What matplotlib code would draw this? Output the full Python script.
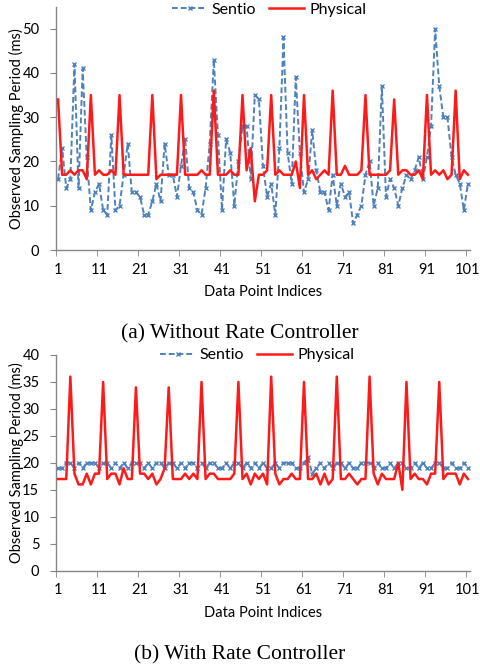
import matplotlib
matplotlib.use("Agg")
import matplotlib.pyplot as plt
import numpy as np

# ---------------- data ----------------
indices = list(range(1, 102))

sentio_a = [16, 23, 14, 16, 42, 14, 41, 21, 9, 13,
            15, 9, 8, 26, 9, 10, 17, 24, 13, 13,
            12, 8, 8, 11, 15, 11, 24, 17, 17, 12,
            19, 25, 14, 13, 9, 8, 14, 24, 43, 26,
            9, 25, 22, 10, 20, 28, 28, 16, 35, 34,
            19, 12, 15, 8, 23, 48, 22, 15, 39, 22,
            13, 16, 27, 18, 13, 13, 9, 17, 10, 15,
            12, 13, 6, 8, 10, 17, 20, 10, 14, 37,
            12, 16, 14, 10, 14, 17, 16, 18, 21, 16,
            21, 28, 50, 37, 30, 30, 21, 17, 15, 9,
            15]

physical_a = [34, 17, 17, 18, 17, 18, 18, 16, 35, 17,
              18, 17, 17, 18, 17, 35, 17, 17, 17, 17,
              17, 17, 17, 35, 16, 17, 17, 17, 17, 17,
              35, 17, 17, 17, 17, 18, 17, 17, 36, 17,
              17, 17, 18, 17, 17, 35, 18, 23, 11, 17,
              17, 18, 35, 17, 18, 17, 17, 17, 20, 14,
              35, 17, 18, 16, 17, 18, 17, 36, 17, 17,
              19, 17, 17, 17, 18, 35, 17, 17, 17, 17,
              17, 18, 34, 17, 18, 18, 17, 17, 18, 16,
              35, 17, 18, 17, 18, 16, 17, 36, 16, 18,
              17]

sentio_b = [19, 19, 20, 20, 19, 20, 19, 20, 20, 20,
            19, 20, 20, 19, 20, 19, 20, 19, 20, 20,
            20, 19, 20, 19, 20, 20, 19, 20, 20, 19,
            20, 19, 20, 20, 19, 20, 19, 20, 20, 19,
            19, 20, 19, 20, 20, 19, 20, 19, 20, 19,
            20, 19, 19, 20, 19, 20, 20, 20, 19, 19,
            20, 21, 18, 19, 20, 19, 20, 19, 20, 20,
            19, 20, 19, 19, 20, 20, 20, 19, 20, 19,
            19, 20, 19, 20, 20, 19, 19, 20, 19, 20,
            19, 19, 20, 20, 19, 19, 20, 19, 19, 20,
            19]

physical_b = [17, 17, 17, 36, 18, 16, 16, 18, 16, 18,
              18, 35, 17, 18, 18, 16, 19, 17, 17, 34,
              18, 18, 17, 18, 16, 17, 19, 34, 17, 17,
              17, 18, 17, 18, 17, 35, 17, 18, 18, 17,
              17, 17, 17, 18, 35, 17, 18, 16, 18, 17,
              18, 16, 36, 18, 16, 17, 17, 18, 17, 17,
              35, 17, 17, 18, 16, 18, 16, 17, 36, 17,
              17, 18, 17, 16, 17, 17, 36, 18, 16, 18,
              17, 17, 17, 20, 15, 35, 17, 18, 17, 17,
              16, 18, 18, 35, 17, 18, 18, 18, 16, 18,
              17]

xtick_labels = [str(v) for v in range(1, 102, 10)]
series_names = ["Sentio", "Physical"]
captions = ["(a) Without Rate Controller", "(b) With Rate Controller"]

# ---------------- style ----------------
plt.rcParams['font.family'] = ['Lato', 'DejaVu Sans']
BLUE = "#4F81BD"
RED = "#FF1A1A"
AXCOL = "#868686"

W, H = 480, 666
fig = plt.figure(figsize=(W / 100, H / 100), dpi=100)


def px_axes(left, top, right, bottom):
    return fig.add_axes([left / W, 1 - bottom / H, (right - left) / W, (bottom - top) / H])


def style_axes(ax, ymax, ystep):
    ax.set_xlim(0.5, 101.5)
    ax.set_ylim(0, ymax)
    for s in ("top", "right"):
        ax.spines[s].set_visible(False)
    for s in ("left", "bottom"):
        ax.spines[s].set_color(AXCOL)
        ax.spines[s].set_linewidth(1.0)
    ax.set_yticks(np.arange(0, ymax + 0.1, ystep))
    ax.set_xticks(range(1, 102, 10))
    ax.set_xticklabels(xtick_labels)
    ax.set_xticks(np.arange(0.5, 101, 10), minor=True)
    ax.tick_params(axis="x", which="major", length=0, pad=9, labelsize=10.5)
    ax.tick_params(axis="x", which="minor", length=4, color=AXCOL, direction="out")
    ax.tick_params(axis="y", length=4, color=AXCOL, pad=8, labelsize=10.5)
    ax.set_xlabel("Data Point Indices", fontsize=10.5, labelpad=6)
    ax.set_ylabel("Observed Sampling Period (ms)", fontsize=10.5)
    ax.yaxis.set_label_coords(-0.078, 0.5)


def draw(ax, sentio, physical):
    l1, = ax.plot(indices, sentio, color=BLUE, lw=1.4, ls=(0, (3, 1.5)),
                  marker="x", ms=3, mew=1.0, label=series_names[0], zorder=2)
    l2, = ax.plot(indices, physical, color=RED, lw=1.8, label=series_names[1], zorder=3)
    return l1, l2


legend_kw = dict(loc="center", ncol=2, frameon=False, fontsize=11.5,
                 handlelength=2.2, columnspacing=0.8, handletextpad=0.3, borderpad=0)

ax1 = px_axes(56, 6.5, 470, 250)
style_axes(ax1, 55, 10)
h = draw(ax1, sentio_a, physical_a)
fig.legend(h, series_names, bbox_to_anchor=(269 / W, 1 - 9.5 / H), **legend_kw)

ax2 = px_axes(56, 355, 470, 570.7)
style_axes(ax2, 40, 5)
h = draw(ax2, sentio_b, physical_b)
fig.legend(h, series_names, bbox_to_anchor=(257 / W, 1 - 355 / H), **legend_kw)

fig.text(0.5, 1 - 334 / H, captions[0], ha="center", va="center",
         family="Liberation Serif", fontsize=15.5)
fig.text(0.5, 1 - 655 / H, captions[1], ha="center", va="center",
         family="Liberation Serif", fontsize=15.5)

fig.savefig("out.png", dpi=100)
